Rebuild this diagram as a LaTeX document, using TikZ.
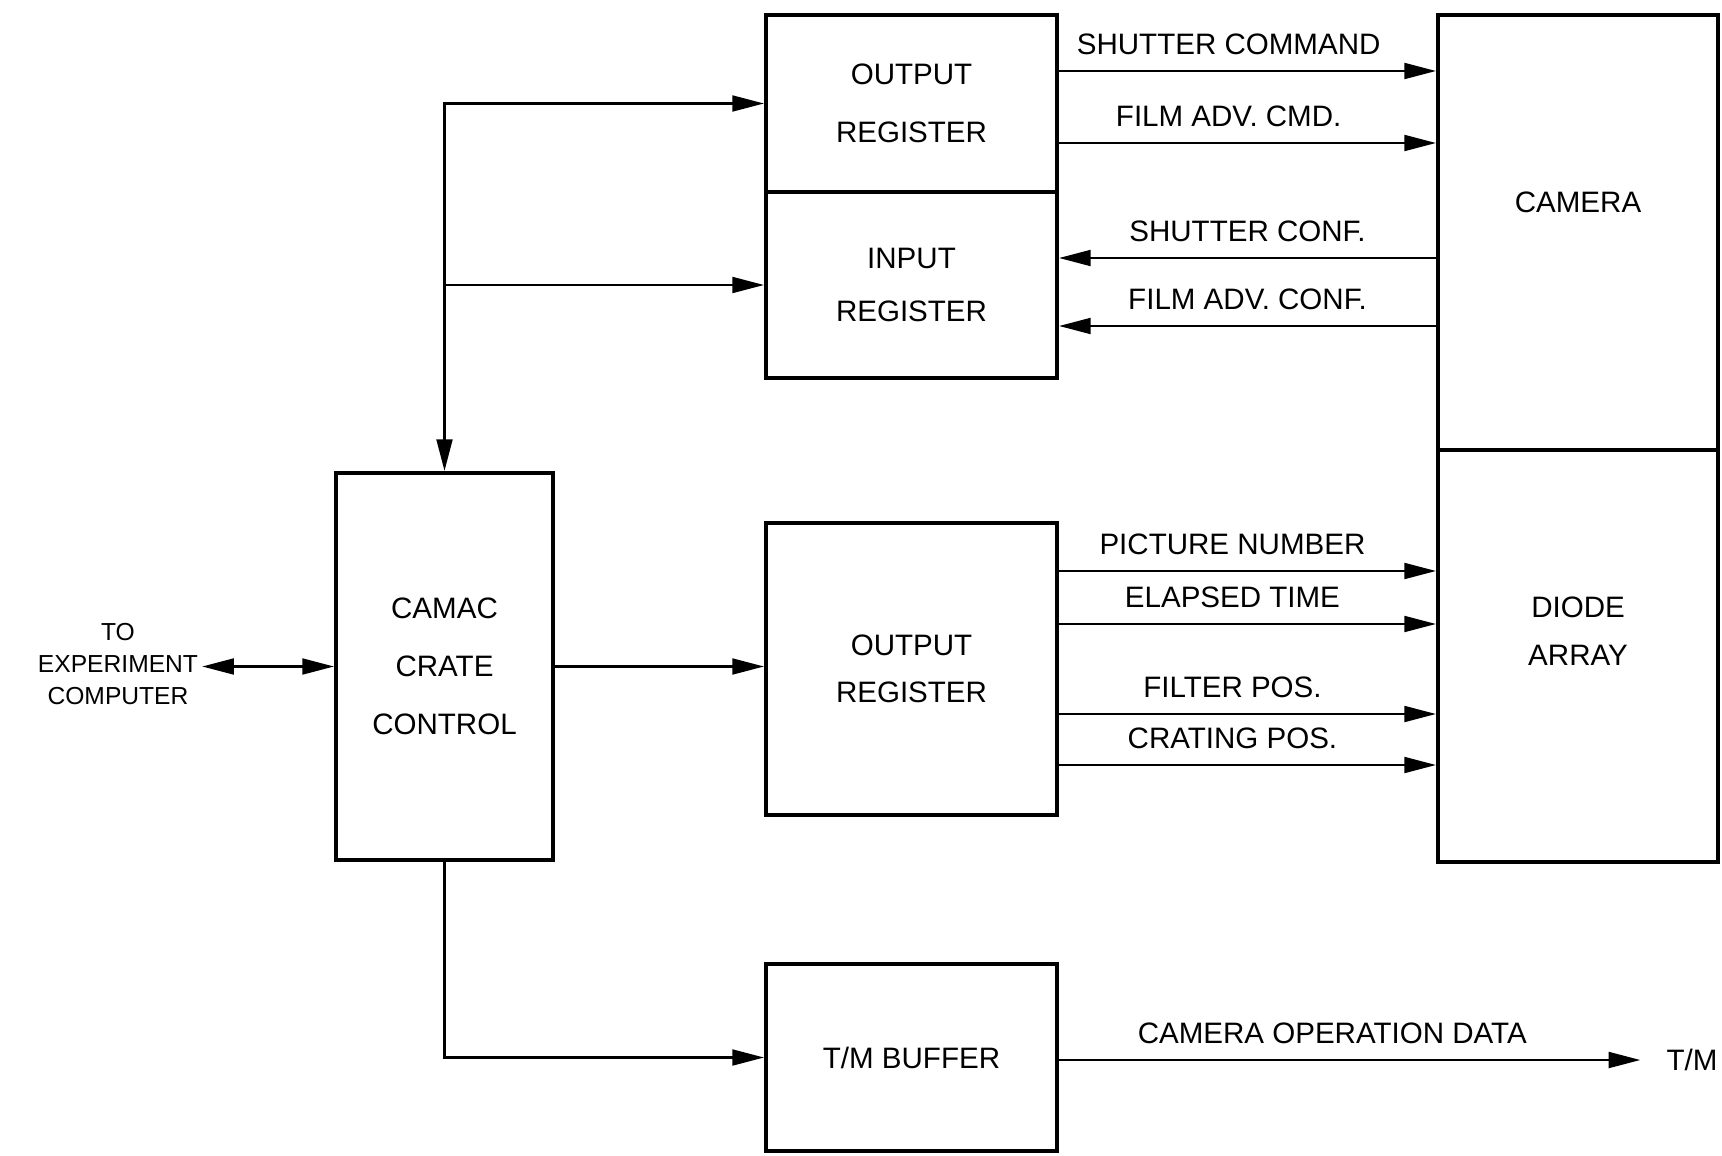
\documentclass[tikz,border=0pt]{standalone}
\usepackage{fontspec}
\setmainfont{Liberation Sans}
\usetikzlibrary{arrows.meta, positioning, calc}

\tikzset{
  blk/.style={draw, line width=1.1pt, inner sep=0pt, align=center,
    font=\fontsize{8.4}{15.5}\selectfont},
  sig/.style={line width=0.7pt, -{Triangle[length=9pt, width=4.5pt]}},
  sigboth/.style={line width=0.7pt, {Triangle[length=9pt, width=4.5pt]}-{Triangle[length=9pt, width=4.5pt]}},
  lbl/.style={font=\fontsize{8.4}{10}\selectfont, above=1pt},
}

\begin{document}
\begin{tikzpicture}[x=0.01cm, y=-0.01cm]
  \useasboundingbox (0,0) rectangle (1722,1155);

  % Blocks
  \node[blk, minimum width=2.91cm, minimum height=1.77cm, font=\fontsize{8.4}{16.5}\selectfont] (outreg) at (911.5,103.5) {OUTPUT\\REGISTER};
  \node[blk, minimum width=2.91cm, minimum height=1.86cm, font=\fontsize{8.4}{15}\selectfont] (inreg) at (911.5,285) {INPUT\\REGISTER};
  \node[blk, minimum width=2.17cm, minimum height=3.87cm, font=\fontsize{8.4}{16.5}\selectfont] (camac) at (444.5,666.5) {CAMAC\\CRATE\\CONTROL};
  \node[blk, minimum width=2.91cm, minimum height=2.92cm, font=\fontsize{8.4}{13.5}\selectfont] (dreg) at (911.5,669) {OUTPUT\\REGISTER};
  \node[blk, minimum width=2.91cm, minimum height=1.87cm] (tmbuf) at (911.5,1057.5) {T/M BUFFER};
  \node[blk, minimum width=2.80cm, minimum height=4.35cm,
        label={[font=\fontsize{8.4}{10}\selectfont, yshift=0.3cm]center:CAMERA}] (camera) at (1578,232.5) {};
  \node[blk, minimum width=2.80cm, minimum height=4.12cm,
        label={[align=center, font=\fontsize{8.4}{13.5}\selectfont, yshift=0.25cm]center:DIODE\\ARRAY}] (diode) at (1578,656) {};

  % Outside ends
  \node[align=center, font=\fontsize{7}{9}\selectfont, inner sep=1pt] (tocomp) at (118,664) {TO\\EXPERIMENT\\COMPUTER};
  \node[font=\fontsize{8.4}{10}\selectfont, inner sep=1pt] (tm) at (1692,1060) {T/M};

  % CAMAC side
  \draw[sigboth] (tocomp.east |- camac.west) -- (camac.west);
  \draw[sigboth] (camac.north) |- (outreg.west);
  \draw[sig] (camac.north |- inreg.west) -- (inreg.west);
  \draw[sig] (camac.east) -- (camac.east -| dreg.west);
  \draw[sig] (camac.south) |- (tmbuf.west);

  % Camera commands and confirmations
  \foreach \y/\lab in {71/SHUTTER COMMAND, 143/FILM ADV. CMD.}
    \draw[sig] (outreg.east |- 0,\y) -- node[lbl, pos=0.45] {\lab} (camera.west |- 0,\y);
  \foreach \y/\lab in {258/SHUTTER CONF., 326/FILM ADV. CONF.}
    \draw[sig] (camera.west |- 0,\y) -- node[lbl, pos=0.5] {\lab} (inreg.east |- 0,\y);

  % Diode array data
  \foreach \y/\lab in {571/PICTURE NUMBER, 624/ELAPSED TIME, 714/FILTER POS., 765/CRATING POS.}
    \draw[sig] (dreg.east |- 0,\y) -- node[lbl, pos=0.46] {\lab} (diode.west |- 0,\y);

  % Telemetry
  \draw[sig] (tmbuf.east |- tm.west) -- node[lbl, pos=0.47] {CAMERA OPERATION DATA} ($(tm.west)+(-22,0)$);
\end{tikzpicture}
\end{document}
